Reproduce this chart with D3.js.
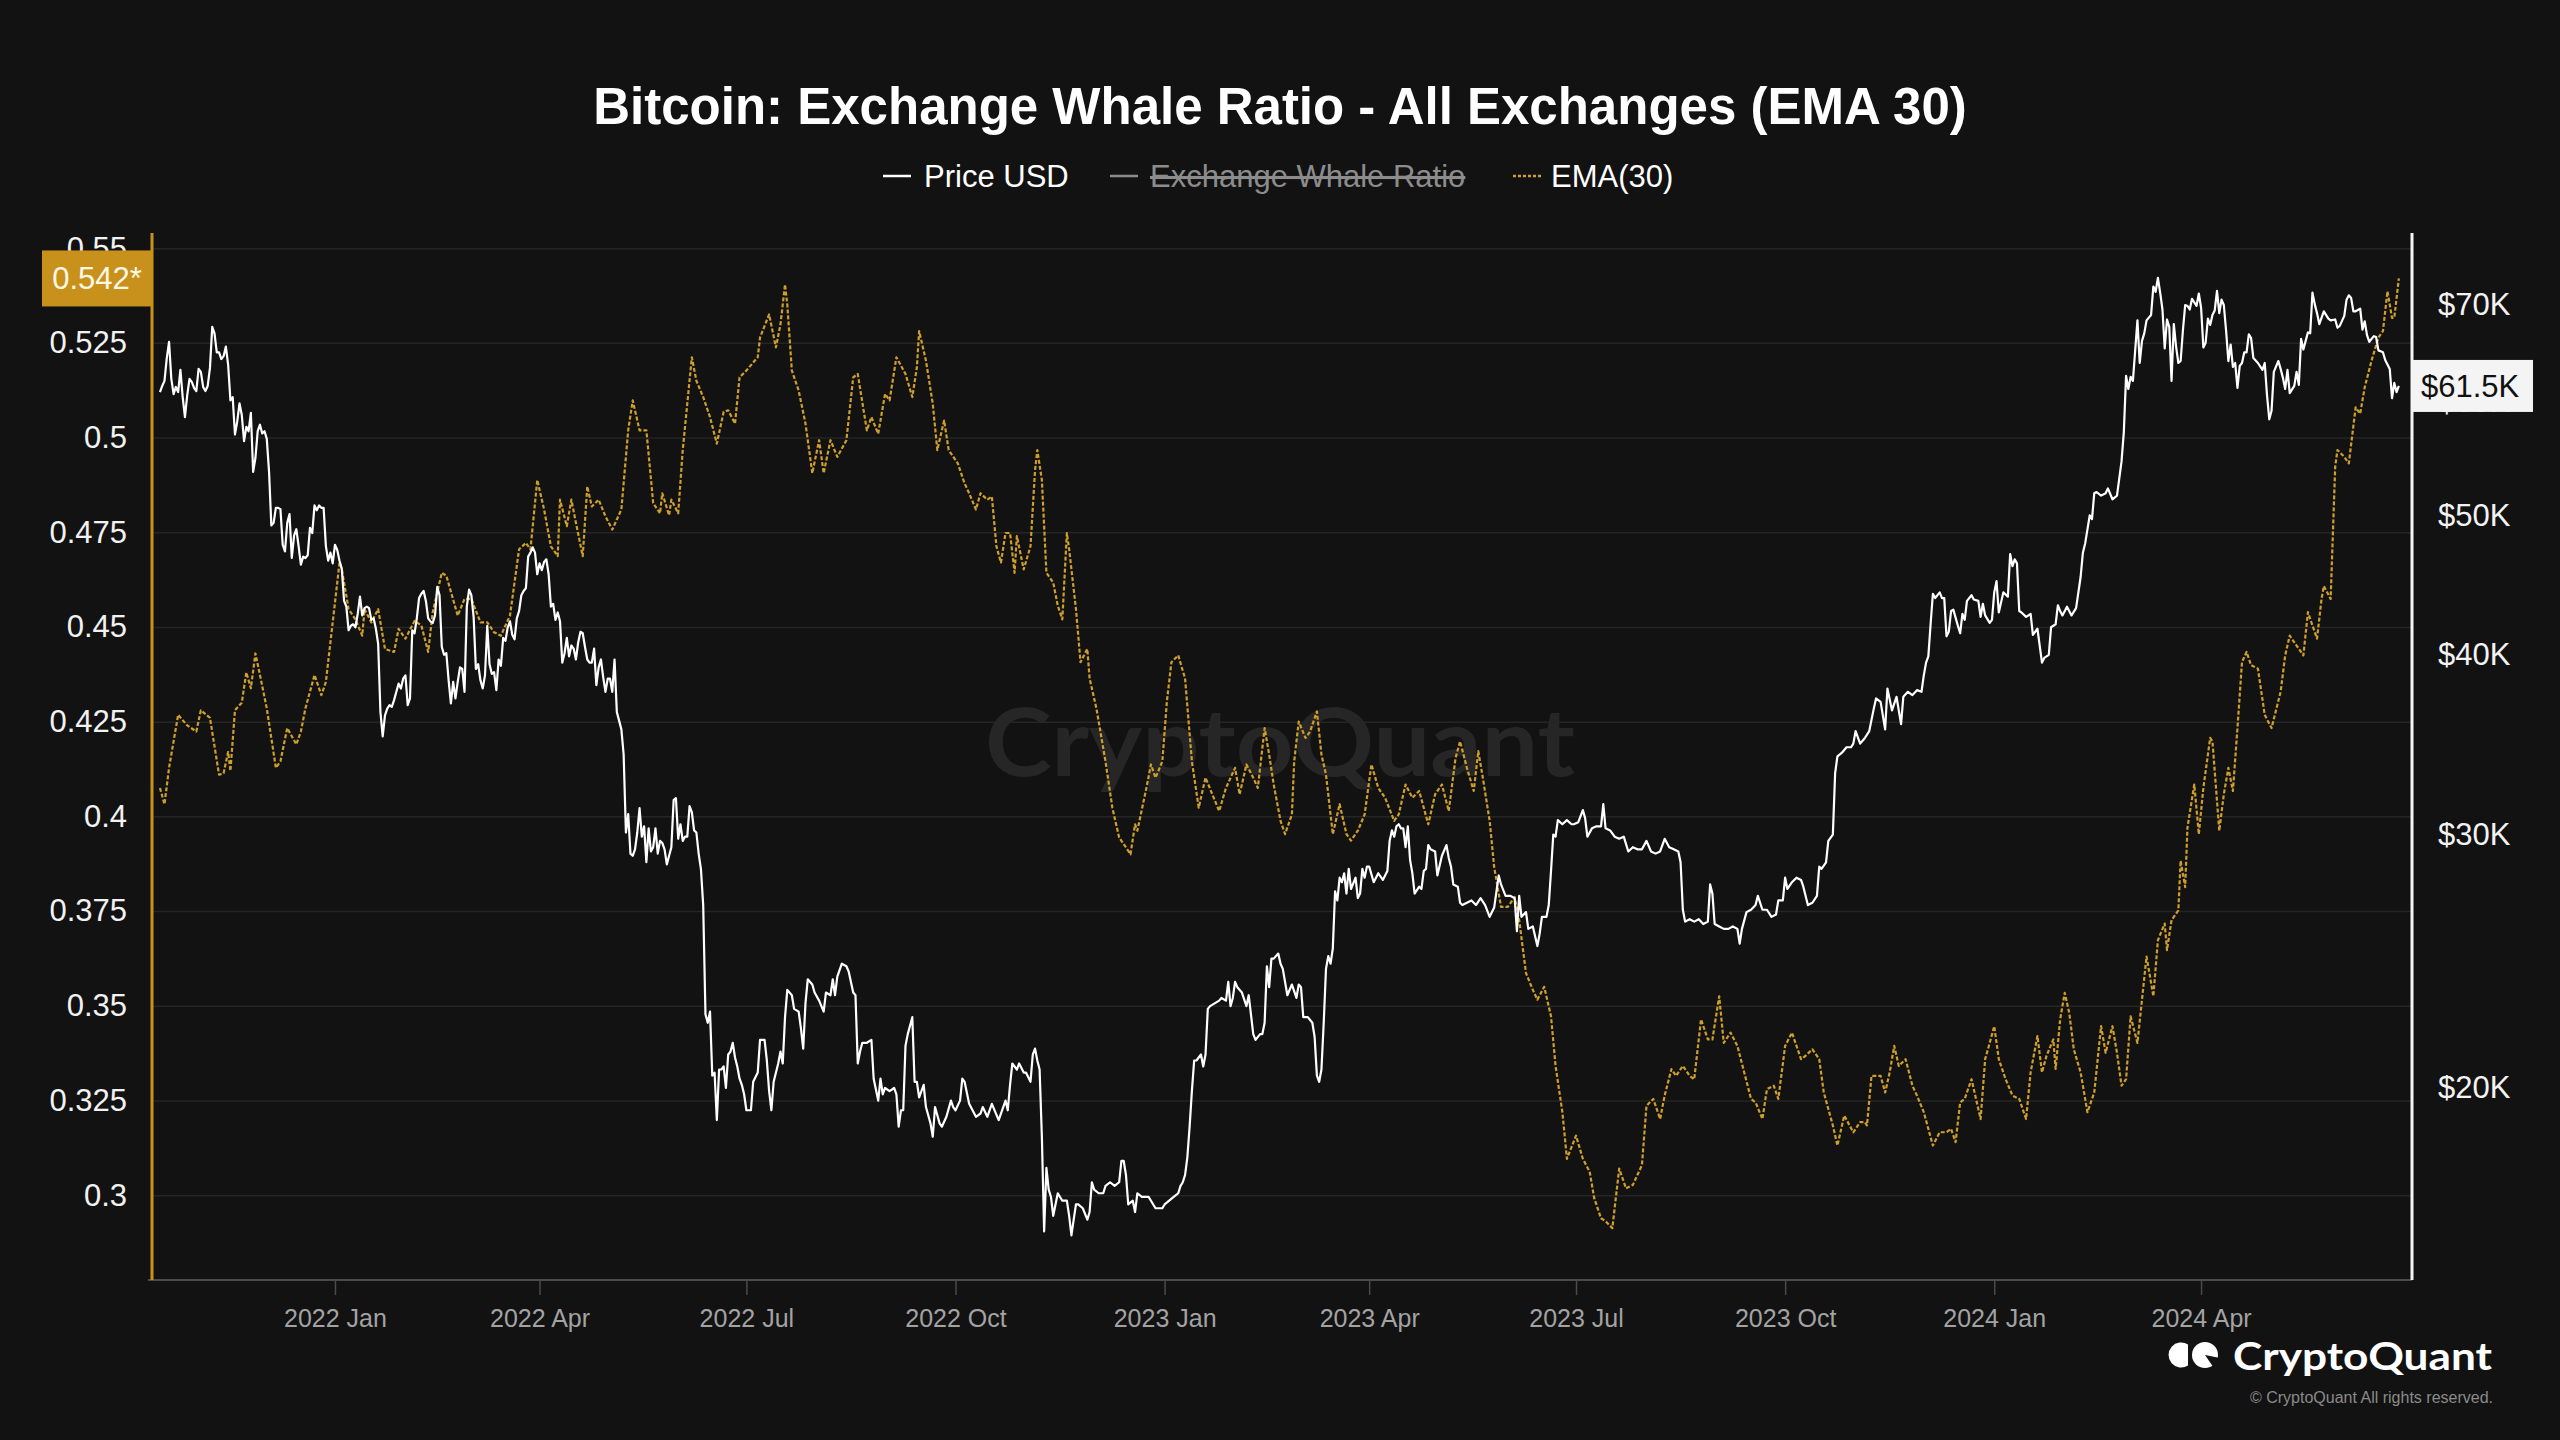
<!DOCTYPE html>
<html><head><meta charset="utf-8">
<script src="https://cdn.jsdelivr.net/npm/d3@7"></script>
<style>html,body{margin:0;padding:0;background:#121212;}svg{display:block;}</style>
</head><body>
<svg id="chart" width="2560" height="1440"></svg>
<script>
// ---------------- DATA ----------------
const titleText = "Bitcoin: Exchange Whale Ratio - All Exchanges (EMA 30)";
const legendLabels = ["Price USD", "Exchange Whale Ratio", "EMA(30)"];
const leftTicks = [0.3, 0.325, 0.35, 0.375, 0.4, 0.425, 0.45, 0.475, 0.5, 0.525, 0.55];
const rightTicks = [20, 30, 40, 50, 60, 70];
const xTickDates = ["2022-01-01","2022-04-01","2022-07-01","2022-10-01","2023-01-01","2023-04-01","2023-07-01","2023-10-01","2024-01-01","2024-04-01"];
const xTickLabels = ["2022 Jan","2022 Apr","2022 Jul","2022 Oct","2023 Jan","2023 Apr","2023 Jul","2023 Oct","2024 Jan","2024 Apr"];
const lastRatioLabel = "0.542*";
const lastPriceLabel = "$61.5K";
const lastRatioValue = 0.542;
const lastPriceValue = 61.5;

// Price USD (thousands)
const price2021 = [["2021-10-16",60.9],["2021-10-17",61.5],["2021-10-18",62.0],["2021-10-19",64.3],["2021-10-20",66.0],["2021-10-21",62.2],["2021-10-22",60.7],["2021-10-23",61.4],["2021-10-24",60.9],["2021-10-25",63.1],["2021-10-26",60.4],["2021-10-27",58.5],["2021-10-28",60.6],["2021-10-29",62.2],["2021-10-30",61.9],["2021-10-31",61.3],
["2021-11-01",61.0],["2021-11-02",63.2],["2021-11-03",62.9],["2021-11-04",61.4],["2021-11-05",61.0],["2021-11-06",61.5],["2021-11-07",63.3],["2021-11-08",67.6],["2021-11-09",66.9],["2021-11-10",64.9],["2021-11-11",64.9],["2021-11-12",64.2],["2021-11-13",64.5],["2021-11-14",65.5],["2021-11-15",63.6],["2021-11-16",60.1],["2021-11-17",60.4],["2021-11-18",56.9],["2021-11-19",58.1],["2021-11-20",59.8],["2021-11-21",58.7],["2021-11-22",56.3],["2021-11-23",57.6],["2021-11-24",57.2],["2021-11-25",58.9],["2021-11-26",53.6],["2021-11-27",54.8],["2021-11-28",57.2],["2021-11-29",57.8],["2021-11-30",57.0],
["2021-12-01",57.2],["2021-12-02",56.5],["2021-12-03",53.6],["2021-12-04",49.2],["2021-12-05",49.4],["2021-12-06",50.6],["2021-12-07",50.6],["2021-12-08",50.5],["2021-12-09",47.7],["2021-12-10",47.2],["2021-12-11",49.4],["2021-12-12",50.1],["2021-12-13",46.7],["2021-12-14",48.4],["2021-12-15",48.9],["2021-12-16",47.6],["2021-12-17",46.2],["2021-12-18",46.8],["2021-12-19",46.7],["2021-12-20",46.9],["2021-12-21",49.0],["2021-12-22",48.6],["2021-12-23",50.8],["2021-12-24",50.4],["2021-12-25",50.8],["2021-12-26",50.6],["2021-12-27",50.6],["2021-12-28",47.6],["2021-12-29",46.5],["2021-12-30",47.1],["2021-12-31",46.3]];

const price2022 = [["2022-01-01",47.7],["2022-01-02",47.3],["2022-01-03",46.5],["2022-01-04",45.9],["2022-01-05",43.6],["2022-01-06",43.2],["2022-01-07",41.6],["2022-01-08",41.9],["2022-01-09",42.0],["2022-01-10",41.8],["2022-01-11",42.7],["2022-01-12",43.9],["2022-01-13",42.6],["2022-01-14",43.1],["2022-01-15",43.2],["2022-01-16",43.1],["2022-01-17",42.3],["2022-01-18",42.4],["2022-01-19",41.7],["2022-01-20",40.7],["2022-01-21",36.5],["2022-01-22",35.1],["2022-01-23",36.3],["2022-01-24",36.7],["2022-01-25",36.9],["2022-01-26",36.8],["2022-01-27",37.2],["2022-01-28",37.7],["2022-01-29",38.2],["2022-01-30",37.9],["2022-01-31",38.5],
["2022-02-01",38.7],["2022-02-02",36.9],["2022-02-03",37.3],["2022-02-04",41.6],["2022-02-05",41.4],["2022-02-06",42.4],["2022-02-07",43.8],["2022-02-08",44.1],["2022-02-09",44.3],["2022-02-10",43.6],["2022-02-11",42.4],["2022-02-12",42.2],["2022-02-13",42.1],["2022-02-14",42.6],["2022-02-15",44.6],["2022-02-16",44.0],["2022-02-17",40.5],["2022-02-18",40.0],["2022-02-19",40.1],["2022-02-20",38.4],["2022-02-21",37.0],["2022-02-22",38.3],["2022-02-23",37.3],["2022-02-24",38.3],["2022-02-25",39.2],["2022-02-26",39.1],["2022-02-27",37.7],["2022-02-28",43.2],
["2022-03-01",44.4],["2022-03-02",44.0],["2022-03-03",42.5],["2022-03-04",39.1],["2022-03-05",39.4],["2022-03-06",38.4],["2022-03-07",37.9],["2022-03-08",38.7],["2022-03-09",41.9],["2022-03-10",39.4],["2022-03-11",38.8],["2022-03-12",38.9],["2022-03-13",37.8],["2022-03-14",39.7],["2022-03-15",39.3],["2022-03-16",41.1],["2022-03-17",40.9],["2022-03-18",41.8],["2022-03-19",42.2],["2022-03-20",41.3],["2022-03-21",41.0],["2022-03-22",42.4],["2022-03-23",42.9],["2022-03-24",44.0],["2022-03-25",44.3],["2022-03-26",44.5],["2022-03-27",46.8],["2022-03-28",47.1],["2022-03-29",47.5],["2022-03-30",47.1],["2022-03-31",45.5],
["2022-04-01",46.3],["2022-04-02",45.8],["2022-04-03",46.4],["2022-04-04",46.6],["2022-04-05",45.5],["2022-04-06",43.2],["2022-04-07",43.4],["2022-04-08",42.3],["2022-04-09",42.8],["2022-04-10",42.2],["2022-04-11",39.5],["2022-04-12",40.1],["2022-04-13",41.1],["2022-04-14",39.9],["2022-04-15",40.6],["2022-04-16",40.4],["2022-04-17",39.7],["2022-04-18",40.8],["2022-04-19",41.5],["2022-04-20",41.4],["2022-04-21",40.5],["2022-04-22",39.7],["2022-04-23",39.5],["2022-04-24",39.5],["2022-04-25",40.4],["2022-04-26",38.1],["2022-04-27",39.2],["2022-04-28",39.7],["2022-04-29",38.6],["2022-04-30",37.7],
["2022-05-01",38.5],["2022-05-02",38.5],["2022-05-03",37.7],["2022-05-04",39.7],["2022-05-05",36.5],["2022-05-06",36.0],["2022-05-07",35.5],["2022-05-08",34.1],["2022-05-09",30.1],["2022-05-10",31.0],["2022-05-11",29.1],["2022-05-12",29.0],["2022-05-13",29.3],["2022-05-14",30.1],["2022-05-15",31.3],["2022-05-16",29.9],["2022-05-17",30.4],["2022-05-18",28.7],["2022-05-19",30.3],["2022-05-20",29.2],["2022-05-21",29.4],["2022-05-22",30.3],["2022-05-23",29.1],["2022-05-24",29.7],["2022-05-25",29.6],["2022-05-26",29.3],["2022-05-27",28.6],["2022-05-28",29.0],["2022-05-29",29.4],["2022-05-30",31.7],["2022-05-31",31.8],
["2022-06-01",29.8],["2022-06-02",30.5],["2022-06-03",29.7],["2022-06-04",29.9],["2022-06-05",29.9],["2022-06-06",31.4],["2022-06-07",31.1],["2022-06-08",30.2],["2022-06-09",30.1],["2022-06-10",29.1],["2022-06-11",28.4],["2022-06-12",26.8],["2022-06-13",22.5],["2022-06-14",22.2],["2022-06-15",22.6],["2022-06-16",20.4],["2022-06-17",20.5],["2022-06-18",19.0],["2022-06-19",20.6],["2022-06-20",20.6],["2022-06-21",20.7],["2022-06-22",20.0],["2022-06-23",21.1],["2022-06-24",21.2],["2022-06-25",21.5],["2022-06-26",21.0],["2022-06-27",20.7],["2022-06-28",20.3],["2022-06-29",20.1],["2022-06-30",19.8],
["2022-07-01",19.3],["2022-07-03",19.3],["2022-07-04",20.2],["2022-07-06",20.5],["2022-07-07",21.6],["2022-07-09",21.6],["2022-07-10",20.9],["2022-07-11",19.9],["2022-07-12",19.3],["2022-07-13",20.2],["2022-07-15",20.8],["2022-07-16",21.2],["2022-07-17",20.8],["2022-07-18",22.4],["2022-07-19",23.4],["2022-07-21",23.2],["2022-07-22",22.7],["2022-07-24",22.6],["2022-07-25",22.0],["2022-07-26",21.3],["2022-07-27",22.9],["2022-07-28",23.8],["2022-07-30",23.6],["2022-07-31",23.3],
["2022-08-02",23.0],["2022-08-04",22.6],["2022-08-05",23.3],["2022-08-07",23.2],["2022-08-08",23.8],["2022-08-09",23.2],["2022-08-10",23.9],["2022-08-12",24.4],["2022-08-14",24.3],["2022-08-15",24.1],["2022-08-17",23.3],["2022-08-18",23.2],["2022-08-19",20.8],["2022-08-20",21.2],["2022-08-21",21.5],["2022-08-23",21.5],["2022-08-25",21.6],["2022-08-26",20.3],["2022-08-28",19.6],["2022-08-29",20.3],["2022-08-30",19.8],["2022-08-31",20.0],
["2022-09-02",19.9],["2022-09-04",20.0],["2022-09-05",19.8],["2022-09-06",18.8],["2022-09-07",19.3],["2022-09-08",19.3],["2022-09-09",21.4],["2022-09-10",21.8],["2022-09-12",22.4],["2022-09-13",20.2],["2022-09-14",20.2],["2022-09-15",19.7],["2022-09-17",20.1],["2022-09-18",19.4],["2022-09-20",18.9],["2022-09-21",18.5],["2022-09-22",19.4],["2022-09-24",18.9],["2022-09-25",18.8],["2022-09-27",19.1],["2022-09-29",19.6],["2022-09-30",19.4],
["2022-10-01",19.3],["2022-10-03",19.6],["2022-10-04",20.3],["2022-10-05",20.2],["2022-10-07",19.5],["2022-10-10",19.1],["2022-10-12",19.2],["2022-10-13",19.4],["2022-10-15",19.1],["2022-10-17",19.5],["2022-10-20",19.0],["2022-10-23",19.6],["2022-10-24",19.3],["2022-10-25",20.1],["2022-10-26",20.8],["2022-10-28",20.6],["2022-10-29",20.8],["2022-10-31",20.5],
["2022-11-01",20.5],["2022-11-03",20.2],["2022-11-04",21.1],["2022-11-05",21.3],["2022-11-06",20.9],["2022-11-07",20.6],["2022-11-08",18.5],["2022-11-09",15.9],["2022-11-10",17.6],["2022-11-11",17.0],["2022-11-12",16.8],["2022-11-13",16.3],["2022-11-14",16.6],["2022-11-15",16.9],["2022-11-17",16.7],["2022-11-19",16.7],["2022-11-20",16.3],["2022-11-21",15.8],["2022-11-22",16.2],["2022-11-23",16.6],["2022-11-24",16.6],["2022-11-26",16.5],["2022-11-28",16.2],["2022-11-29",16.4],["2022-11-30",17.2],
["2022-12-01",17.0],["2022-12-03",16.9],["2022-12-05",16.9],["2022-12-06",17.1],["2022-12-08",17.2],["2022-12-10",17.1],["2022-12-12",17.2],["2022-12-13",17.8],["2022-12-14",17.8],["2022-12-15",17.4],["2022-12-16",16.6],["2022-12-18",16.7],["2022-12-19",16.4],["2022-12-20",16.9],["2022-12-22",16.8],["2022-12-25",16.8],["2022-12-28",16.5],["2022-12-31",16.5]];

const price2023 = [["2023-01-01",16.6],["2023-01-03",16.7],["2023-01-05",16.8],["2023-01-07",16.9],["2023-01-08",17.1],["2023-01-09",17.2],["2023-01-10",17.4],["2023-01-11",17.9],["2023-01-12",18.8],["2023-01-13",19.9],["2023-01-14",20.9],["2023-01-15",20.9],["2023-01-17",21.1],["2023-01-18",20.7],["2023-01-19",21.1],["2023-01-20",22.7],["2023-01-21",22.8],["2023-01-23",22.9],["2023-01-25",23.0],["2023-01-26",23.1],["2023-01-28",23.0],["2023-01-29",23.7],["2023-01-30",22.8],["2023-01-31",23.1],
["2023-02-01",23.7],["2023-02-02",23.5],["2023-02-04",23.3],["2023-02-06",22.8],["2023-02-07",23.2],["2023-02-09",21.8],["2023-02-10",21.6],["2023-02-12",21.8],["2023-02-13",21.8],["2023-02-14",22.2],["2023-02-15",24.3],["2023-02-16",23.5],["2023-02-17",24.6],["2023-02-18",24.6],["2023-02-20",24.8],["2023-02-21",24.4],["2023-02-22",24.2],["2023-02-24",23.2],["2023-02-26",23.6],["2023-02-28",23.1],
["2023-03-01",23.6],["2023-03-02",23.5],["2023-03-03",22.4],["2023-03-05",22.4],["2023-03-07",22.2],["2023-03-08",21.7],["2023-03-09",20.4],["2023-03-10",20.2],["2023-03-11",20.6],["2023-03-12",22.2],["2023-03-13",24.2],["2023-03-14",24.7],["2023-03-15",24.4],["2023-03-16",25.0],["2023-03-17",27.4],["2023-03-18",27.0],["2023-03-19",28.0],["2023-03-20",27.8],["2023-03-21",28.2],["2023-03-22",27.3],["2023-03-23",28.4],["2023-03-24",27.5],["2023-03-26",28.0],["2023-03-27",27.1],["2023-03-28",27.3],["2023-03-29",28.4],["2023-03-30",28.0],["2023-03-31",28.5],
["2023-04-01",28.5],["2023-04-03",27.8],["2023-04-05",28.2],["2023-04-07",27.9],["2023-04-09",28.3],["2023-04-10",29.7],["2023-04-11",30.2],["2023-04-12",29.9],["2023-04-13",30.4],["2023-04-14",30.5],["2023-04-15",30.3],["2023-04-16",30.3],["2023-04-17",29.4],["2023-04-18",30.4],["2023-04-19",28.8],["2023-04-20",28.2],["2023-04-21",27.3],["2023-04-23",27.6],["2023-04-24",27.5],["2023-04-25",28.3],["2023-04-26",28.4],["2023-04-27",29.5],["2023-04-28",29.3],["2023-04-30",29.2],
["2023-05-01",28.1],["2023-05-03",29.0],["2023-05-05",29.5],["2023-05-06",28.9],["2023-05-07",28.5],["2023-05-08",27.7],["2023-05-10",27.6],["2023-05-11",26.9],["2023-05-12",26.8],["2023-05-14",26.9],["2023-05-16",27.0],["2023-05-18",26.8],["2023-05-20",27.1],["2023-05-22",26.8],["2023-05-24",26.3],["2023-05-26",26.7],["2023-05-28",28.1],["2023-05-29",27.7],["2023-05-31",27.2],
["2023-06-02",27.2],["2023-06-04",27.1],["2023-06-05",25.7],["2023-06-06",27.2],["2023-06-07",26.3],["2023-06-09",26.5],["2023-06-10",25.8],["2023-06-12",25.9],["2023-06-14",25.1],["2023-06-15",25.6],["2023-06-16",26.3],["2023-06-18",26.3],["2023-06-19",26.8],["2023-06-20",28.3],["2023-06-21",30.0],["2023-06-22",29.9],["2023-06-23",30.7],["2023-06-25",30.5],["2023-06-27",30.7],["2023-06-29",30.5],["2023-06-30",30.5],
["2023-07-02",30.6],["2023-07-04",31.2],["2023-07-05",30.8],["2023-07-06",29.9],["2023-07-08",30.3],["2023-07-10",30.4],["2023-07-12",30.4],["2023-07-13",31.5],["2023-07-14",30.3],["2023-07-16",30.2],["2023-07-18",29.9],["2023-07-20",29.8],["2023-07-22",29.9],["2023-07-24",29.2],["2023-07-26",29.4],["2023-07-28",29.3],["2023-07-30",29.3],
["2023-08-01",29.7],["2023-08-03",29.2],["2023-08-05",29.1],["2023-08-07",29.2],["2023-08-09",29.8],["2023-08-11",29.4],["2023-08-13",29.3],["2023-08-15",29.2],["2023-08-16",28.7],["2023-08-17",26.6],["2023-08-18",26.1],["2023-08-20",26.2],["2023-08-22",26.1],["2023-08-24",26.2],["2023-08-26",26.0],["2023-08-28",26.1],["2023-08-29",27.7],["2023-08-30",27.3],["2023-08-31",26.0],
["2023-09-02",25.9],["2023-09-04",25.8],["2023-09-06",25.8],["2023-09-08",25.9],["2023-09-10",25.8],["2023-09-11",25.2],["2023-09-12",25.8],["2023-09-14",26.5],["2023-09-16",26.6],["2023-09-18",26.8],["2023-09-19",27.2],["2023-09-21",26.6],["2023-09-23",26.6],["2023-09-25",26.3],["2023-09-27",26.4],["2023-09-28",27.0],["2023-09-30",27.0],
["2023-10-01",28.0],["2023-10-02",27.5],["2023-10-04",27.8],["2023-10-06",28.0],["2023-10-08",27.9],["2023-10-09",27.6],["2023-10-11",26.8],["2023-10-13",26.9],["2023-10-15",27.2],["2023-10-16",28.5],["2023-10-17",28.4],["2023-10-19",28.7],["2023-10-20",29.7],["2023-10-22",30.0],["2023-10-23",33.1],["2023-10-24",34.0],["2023-10-26",34.2],["2023-10-28",34.5],["2023-10-30",34.5],["2023-10-31",34.7],
["2023-11-01",35.4],["2023-11-03",34.7],["2023-11-05",35.0],["2023-11-07",35.4],["2023-11-09",36.7],["2023-11-10",37.3],["2023-11-12",37.1],["2023-11-14",35.5],["2023-11-15",37.9],["2023-11-17",36.6],["2023-11-19",37.4],["2023-11-21",35.8],["2023-11-22",37.4],["2023-11-24",37.7],["2023-11-26",37.5],["2023-11-28",37.8],["2023-11-30",37.7],
["2023-12-01",38.7],["2023-12-02",39.5],["2023-12-03",39.9],["2023-12-04",42.0],["2023-12-05",44.1],["2023-12-06",43.8],["2023-12-08",44.2],["2023-12-09",43.8],["2023-12-10",43.8],["2023-12-11",41.2],["2023-12-12",41.5],["2023-12-13",42.9],["2023-12-14",43.0],["2023-12-16",41.9],["2023-12-17",41.4],["2023-12-18",42.7],["2023-12-19",42.3],["2023-12-20",43.6],["2023-12-22",44.0],["2023-12-23",43.7],["2023-12-25",43.6],["2023-12-26",42.5],["2023-12-27",43.4],["2023-12-28",42.6],["2023-12-30",42.1],["2023-12-31",42.3]];

const price2024 = [["2024-01-01",44.2],["2024-01-02",45.0],["2024-01-03",42.8],["2024-01-05",44.2],["2024-01-07",43.9],["2024-01-08",47.0],["2024-01-09",46.1],["2024-01-10",46.6],["2024-01-11",46.3],["2024-01-12",42.9],["2024-01-13",42.8],["2024-01-15",42.5],["2024-01-17",42.7],["2024-01-18",41.3],["2024-01-20",41.7],["2024-01-22",39.5],["2024-01-23",39.8],["2024-01-25",40.0],["2024-01-26",41.8],["2024-01-28",42.0],["2024-01-29",43.3],["2024-01-30",42.9],["2024-01-31",42.6],
["2024-02-02",43.2],["2024-02-04",42.6],["2024-02-06",43.1],["2024-02-08",45.3],["2024-02-09",47.1],["2024-02-10",47.8],["2024-02-12",50.0],["2024-02-13",49.7],["2024-02-14",51.8],["2024-02-15",51.9],["2024-02-17",51.6],["2024-02-19",51.8],["2024-02-20",52.2],["2024-02-22",51.3],["2024-02-24",51.6],["2024-02-26",54.5],["2024-02-27",57.1],["2024-02-28",62.5],["2024-02-29",61.2],
["2024-03-01",62.4],["2024-03-02",62.0],["2024-03-04",68.3],["2024-03-05",63.8],["2024-03-06",66.1],["2024-03-07",66.9],["2024-03-08",68.3],["2024-03-10",68.9],["2024-03-11",72.1],["2024-03-12",71.5],["2024-03-13",73.1],["2024-03-14",71.4],["2024-03-15",69.5],["2024-03-16",65.3],["2024-03-17",68.4],["2024-03-18",67.6],["2024-03-19",62.0],["2024-03-20",67.9],["2024-03-21",65.5],["2024-03-22",63.8],["2024-03-23",64.0],["2024-03-24",67.2],["2024-03-25",70.0],["2024-03-26",69.9],["2024-03-27",69.5],["2024-03-28",70.7],["2024-03-30",69.9],["2024-03-31",71.3],
["2024-04-01",69.7],["2024-04-02",65.4],["2024-04-03",65.9],["2024-04-04",68.5],["2024-04-05",67.8],["2024-04-06",68.9],["2024-04-07",69.4],["2024-04-08",71.6],["2024-04-09",69.1],["2024-04-10",70.6],["2024-04-11",70.0],["2024-04-12",67.2],["2024-04-13",64.0],["2024-04-14",65.7],["2024-04-15",63.4],["2024-04-16",63.8],["2024-04-17",61.3],["2024-04-18",63.5],["2024-04-19",63.8],["2024-04-20",64.9],["2024-04-21",64.9],["2024-04-22",66.8],["2024-04-23",66.4],["2024-04-24",64.3],["2024-04-26",63.8],["2024-04-28",63.1],["2024-04-29",63.8],["2024-04-30",60.6],
["2024-05-01",58.3],["2024-05-02",59.1],["2024-05-03",62.9],["2024-05-05",64.0],["2024-05-06",63.2],["2024-05-07",62.3],["2024-05-08",61.2],["2024-05-09",63.1],["2024-05-10",60.8],["2024-05-12",61.5],["2024-05-13",62.9],["2024-05-14",61.6],["2024-05-15",66.3],["2024-05-16",65.2],["2024-05-18",67.0],["2024-05-19",66.9],["2024-05-20",71.4],["2024-05-21",70.1],["2024-05-22",69.1],["2024-05-23",67.9],["2024-05-25",69.3],["2024-05-27",68.5],["2024-05-28",68.3],["2024-05-30",68.4],["2024-05-31",67.5],
["2024-06-01",67.7],["2024-06-03",68.8],["2024-06-04",70.6],["2024-06-05",71.1],["2024-06-06",70.8],["2024-06-07",69.3],["2024-06-08",69.3],["2024-06-10",69.6],["2024-06-11",67.3],["2024-06-12",68.2],["2024-06-13",66.7],["2024-06-14",66.0],["2024-06-16",66.6],["2024-06-17",66.5],["2024-06-18",65.1],["2024-06-19",65.0],["2024-06-20",64.9],["2024-06-21",64.1],["2024-06-23",63.2],["2024-06-24",60.3],["2024-06-25",61.8],["2024-06-26",60.9],["2024-06-27",61.5]];

// Exchange Whale Ratio EMA(30)
const ema2021 = [["2021-10-16",0.4075],["2021-10-18",0.4032],["2021-10-20",0.4128],["2021-10-24",0.4268],["2021-10-28",0.424],["2021-11-01",0.4224],["2021-11-03",0.428],["2021-11-07",0.426],["2021-11-11",0.411],["2021-11-13",0.4114],["2021-11-15",0.417],["2021-11-16",0.412],["2021-11-18",0.428],["2021-11-21",0.430],["2021-11-23",0.438],["2021-11-25",0.4338],["2021-11-27",0.443],["2021-11-29",0.4373],["2021-12-02",0.4285],["2021-12-06",0.4128],["2021-12-08",0.4145],["2021-12-11",0.4233],["2021-12-15",0.419],["2021-12-17",0.4224],["2021-12-19",0.4285],["2021-12-23",0.4373],["2021-12-26",0.432],["2021-12-28",0.4355],["2021-12-31",0.4512]];

const ema2022 = [["2022-01-03",0.467],["2022-01-04",0.4652],["2022-01-07",0.4547],["2022-01-10",0.452],["2022-01-13",0.4477],["2022-01-14",0.4547],["2022-01-17",0.4512],["2022-01-20",0.4547],["2022-01-23",0.4442],["2022-01-27",0.4434],["2022-01-29",0.4495],["2022-02-01",0.4469],["2022-02-05",0.4516],["2022-02-08",0.4504],["2022-02-11",0.4434],["2022-02-13",0.4539],["2022-02-17",0.4643],["2022-02-19",0.4635],["2022-02-24",0.453],["2022-02-27",0.4574],["2022-03-02",0.4574],["2022-03-06",0.4512],["2022-03-09",0.4512],["2022-03-12",0.4486],["2022-03-15",0.4477],["2022-03-19",0.453],["2022-03-23",0.4705],["2022-03-26",0.4722],["2022-03-28",0.4705],["2022-03-31",0.4888],["2022-04-03",0.481],["2022-04-06",0.4713],["2022-04-09",0.4687],["2022-04-10",0.4836],["2022-04-13",0.4766],["2022-04-15",0.4836],["2022-04-17",0.4775],["2022-04-20",0.4687],["2022-04-22",0.4871],["2022-04-24",0.4818],["2022-04-27",0.4836],["2022-04-30",0.4792],["2022-05-03",0.4757],["2022-05-07",0.481],["2022-05-10",0.5019],["2022-05-12",0.5098],["2022-05-15",0.5019],["2022-05-18",0.5019],["2022-05-21",0.4827],["2022-05-24",0.48],["2022-05-25",0.4853],["2022-05-28",0.4795],["2022-05-29",0.4836],["2022-06-01",0.48],["2022-06-03",0.4967],["2022-06-07",0.5212],["2022-06-09",0.515],["2022-06-12",0.5107],["2022-06-15",0.5054],["2022-06-18",0.4984],["2022-06-21",0.5068],["2022-06-23",0.5072],["2022-06-26",0.5037],["2022-06-28",0.5159],["2022-07-01",0.5177],["2022-07-06",0.5212],["2022-07-07",0.5264],["2022-07-11",0.5325],["2022-07-14",0.5238],["2022-07-16",0.5299],["2022-07-18",0.5404],["2022-07-19",0.5351],["2022-07-21",0.5177],["2022-07-24",0.5124],["2022-07-27",0.5037],["2022-07-30",0.4906],["2022-08-02",0.4993],["2022-08-04",0.4906],["2022-08-07",0.4993],["2022-08-10",0.4949],["2022-08-14",0.4993],["2022-08-17",0.5159],["2022-08-19",0.5168],["2022-08-23",0.5019],["2022-08-25",0.5054],["2022-08-28",0.501],["2022-08-31",0.5115],["2022-09-02",0.5098],["2022-09-05",0.5212],["2022-09-09",0.5168],["2022-09-12",0.5107],["2022-09-14",0.5185],["2022-09-15",0.5281],["2022-09-18",0.5203],["2022-09-21",0.5089],["2022-09-23",0.4967],["2022-09-26",0.5045],["2022-09-28",0.4967],["2022-10-02",0.4932],["2022-10-05",0.4879],["2022-10-07",0.4853],["2022-10-10",0.481],["2022-10-12",0.4853],["2022-10-15",0.4836],["2022-10-17",0.4844],["2022-10-19",0.4713],["2022-10-21",0.467],["2022-10-23",0.4748],["2022-10-25",0.4748],["2022-10-27",0.4643],["2022-10-28",0.474],["2022-10-31",0.4652],["2022-11-03",0.4713],["2022-11-05",0.4914],["2022-11-06",0.4967],["2022-11-08",0.4888],["2022-11-10",0.4643],["2022-11-13",0.4617],["2022-11-15",0.4556],["2022-11-17",0.452],["2022-11-19",0.4748],["2022-11-20",0.4705],["2022-11-23",0.4547],["2022-11-25",0.4407],["2022-11-28",0.4442],["2022-11-29",0.4364],["2022-12-02",0.4285],["2022-12-06",0.4145],["2022-12-09",0.4023],["2022-12-12",0.3944],["2022-12-15",0.3918],["2022-12-17",0.39],["2022-12-19",0.3979],["2022-12-20",0.3962],["2022-12-24",0.4075],["2022-12-26",0.4137],["2022-12-28",0.4102],["2022-12-31",0.4145]];

const ema2023 = [["2023-01-02",0.4303],["2023-01-04",0.4407],["2023-01-07",0.4425],["2023-01-10",0.4364],["2023-01-13",0.4145],["2023-01-16",0.4023],["2023-01-19",0.4102],["2023-01-22",0.4058],["2023-01-25",0.4014],["2023-01-28",0.4075],["2023-02-01",0.4128],["2023-02-03",0.4058],["2023-02-06",0.4137],["2023-02-09",0.4102],["2023-02-11",0.4075],["2023-02-14",0.4233],["2023-02-16",0.4163],["2023-02-18",0.4084],["2023-02-21",0.3988],["2023-02-23",0.3953],["2023-02-26",0.4005],["2023-02-27",0.4145],["2023-03-01",0.425],["2023-03-04",0.4207],["2023-03-06",0.4224],["2023-03-09",0.4277],["2023-03-11",0.4163],["2023-03-13",0.411],["2023-03-16",0.3953],["2023-03-19",0.4032],["2023-03-22",0.3953],["2023-03-24",0.3936],["2023-03-27",0.3962],["2023-03-30",0.4005],["2023-04-02",0.4137],["2023-04-05",0.4075],["2023-04-08",0.4049],["2023-04-12",0.3988],["2023-04-14",0.4005],["2023-04-17",0.4084],["2023-04-20",0.4049],["2023-04-23",0.4067],["2023-04-27",0.3979],["2023-04-30",0.4058],["2023-05-03",0.4084],["2023-05-06",0.4014],["2023-05-09",0.4154],["2023-05-11",0.4198],["2023-05-14",0.4128],["2023-05-17",0.4067],["2023-05-19",0.4172],["2023-05-21",0.4102],["2023-05-24",0.3988],["2023-05-26",0.3866],["2023-05-29",0.3761],["2023-06-01",0.3761],["2023-06-04",0.3787],["2023-06-06",0.3726],["2023-06-09",0.3586],["2023-06-12",0.3542],["2023-06-14",0.3516],["2023-06-17",0.355],["2023-06-20",0.3472],["2023-06-22",0.3341],["2023-06-25",0.3219],["2023-06-27",0.3096],["2023-07-01",0.3157],["2023-07-04",0.3096],["2023-07-07",0.3062],["2023-07-09",0.2992],["2023-07-12",0.2939],["2023-07-14",0.2931],["2023-07-17",0.2913],["2023-07-18",0.2966],["2023-07-20",0.307],["2023-07-23",0.3018],["2023-07-26",0.3027],["2023-07-30",0.3079],["2023-08-01",0.3236],["2023-08-04",0.3254],["2023-08-07",0.3201],["2023-08-09",0.3263],["2023-08-12",0.3333],["2023-08-14",0.3315],["2023-08-17",0.3341],["2023-08-20",0.3315],["2023-08-22",0.3306],["2023-08-25",0.3464],["2023-08-28",0.3411],["2023-08-30",0.3411],["2023-09-02",0.3525],["2023-09-04",0.3402],["2023-09-07",0.3429],["2023-09-10",0.3394],["2023-09-13",0.3324],["2023-09-16",0.3254],["2023-09-18",0.3245],["2023-09-21",0.3201],["2023-09-23",0.328],["2023-09-26",0.3289],["2023-09-28",0.3254],["2023-10-01",0.3394],["2023-10-04",0.3429],["2023-10-08",0.3359],["2023-10-10",0.3368],["2023-10-13",0.3385],["2023-10-16",0.3359],["2023-10-18",0.3271],["2023-10-22",0.3184],["2023-10-24",0.3131],["2023-10-27",0.321],["2023-10-31",0.3166],["2023-11-03",0.3193],["2023-11-05",0.3193],["2023-11-06",0.3184],["2023-11-08",0.3315],["2023-11-12",0.3315],["2023-11-14",0.3271],["2023-11-16",0.3324],["2023-11-18",0.3394],["2023-11-20",0.3341],["2023-11-23",0.3359],["2023-11-26",0.3289],["2023-11-28",0.3263],["2023-12-01",0.3219],["2023-12-03",0.3175],["2023-12-05",0.3131],["2023-12-08",0.3166],["2023-12-11",0.3166],["2023-12-13",0.3175],["2023-12-15",0.314],["2023-12-17",0.3245],["2023-12-19",0.3254],["2023-12-22",0.3306],["2023-12-26",0.3201],["2023-12-28",0.3359],["2023-12-30",0.3402]];

const ema2024 = [["2024-01-01",0.3446],["2024-01-03",0.3359],["2024-01-06",0.3306],["2024-01-09",0.3263],["2024-01-12",0.3254],["2024-01-15",0.3201],["2024-01-17",0.3324],["2024-01-20",0.342],["2024-01-22",0.3324],["2024-01-24",0.3368],["2024-01-27",0.3411],["2024-01-28",0.3333],["2024-01-30",0.3464],["2024-02-01",0.3534],["2024-02-03",0.3481],["2024-02-05",0.3385],["2024-02-08",0.3324],["2024-02-11",0.3219],["2024-02-14",0.3271],["2024-02-17",0.3446],["2024-02-19",0.3376],["2024-02-22",0.3446],["2024-02-24",0.3376],["2024-02-26",0.3289],["2024-02-28",0.3306],["2024-03-01",0.3472],["2024-03-04",0.3402],["2024-03-06",0.3516],["2024-03-08",0.363],["2024-03-11",0.3525],["2024-03-13",0.3673],["2024-03-16",0.3717],["2024-03-17",0.3647],["2024-03-19",0.3726],["2024-03-22",0.3752],["2024-03-23",0.3883],["2024-03-25",0.3813],["2024-03-26",0.397],["2024-03-29",0.4084],["2024-03-31",0.3953],["2024-04-02",0.4075],["2024-04-05",0.4207],["2024-04-06",0.4198],["2024-04-09",0.3962],["2024-04-11",0.4058],["2024-04-13",0.4128],["2024-04-15",0.4067],["2024-04-17",0.4233],["2024-04-19",0.4407],["2024-04-21",0.4434],["2024-04-23",0.4399],["2024-04-26",0.439],["2024-04-29",0.4268],["2024-05-02",0.4233],["2024-05-06",0.4329],["2024-05-08",0.4425],["2024-05-10",0.4477],["2024-05-13",0.4451],["2024-05-16",0.4425],["2024-05-18",0.4539],["2024-05-20",0.4504],["2024-05-22",0.4469],["2024-05-24",0.4574],["2024-05-25",0.4608],["2024-05-28",0.4574],["2024-05-30",0.4923],["2024-05-31",0.4967],["2024-06-03",0.4949],["2024-06-05",0.4932],["2024-06-08",0.508],["2024-06-10",0.5063],["2024-06-12",0.5133],["2024-06-15",0.5203],["2024-06-18",0.5264],["2024-06-20",0.5281],["2024-06-22",0.5386],["2024-06-24",0.5316],["2024-06-25",0.5316],["2024-06-27",0.542]];

// ---------------- CHART ----------------
const parse = d3.utcParse("%Y-%m-%d");
const priceSeries = [...price2021, ...price2022, ...price2023, ...price2024];
const emaSeries = [...ema2021, ...ema2022, ...ema2023, ...ema2024];

const FONT = "'Liberation Sans', Arial, Helvetica, sans-serif";
const BG = "#121212";
const GOLD = "#c8911b";
const EMA_COLOR = "#cf9f2c";
const plot = {left: 152, right: 2412, top: 233, bottom: 1280};

const svg = d3.select("#chart");
svg.append("rect").attr("width", 2560).attr("height", 1440).attr("fill", BG);

const x = d3.scaleUtc()
  .domain([new Date(Date.UTC(2021, 9, 12, 12)), new Date(Date.UTC(2024, 6, 2, 19))])
  .range([plot.left, plot.right]);
const yL = d3.scaleLinear().domain([0.2776, 0.554]).range([plot.bottom, plot.top]);
const yR = d3.scaleLog().domain([14.71, 78.55]).range([plot.bottom, plot.top]);

// grid
const grid = svg.append("g").attr("transform", `translate(${plot.left},0)`)
  .call(d3.axisLeft(yL).tickValues(leftTicks).tickSize(-(plot.right - plot.left)).tickFormat(""));
grid.select(".domain").remove();
grid.selectAll("line").attr("stroke", "#252525").attr("stroke-width", 1.5);

// watermark
svg.append("text").attr("x", 1280).attr("y", 776).attr("text-anchor", "middle")
  .attr("font-family", "Lato, 'Noto Sans', sans-serif").attr("font-weight", 700)
  .attr("font-size", 94).attr("fill", "#262626")
  .attr("textLength", 590).attr("lengthAdjust", "spacingAndGlyphs")
  .text("CryptoQuant");

// clip
svg.append("clipPath").attr("id", "clip").append("rect")
  .attr("x", plot.left).attr("y", plot.top).attr("width", plot.right - plot.left).attr("height", plot.bottom - plot.top);

const gLines = svg.append("g").attr("clip-path", "url(#clip)");
const emaLine = d3.line().x(d => x(parse(d[0]))).y(d => yL(d[1]));
const priceLine = d3.line().x(d => x(parse(d[0]))).y(d => yR(d[1]));

gLines.append("path").datum(emaSeries).attr("d", emaLine)
  .attr("fill", "none").attr("stroke", EMA_COLOR).attr("stroke-width", 2.2)
  .attr("stroke-dasharray", "4,2").attr("stroke-linejoin", "round");
gLines.append("path").datum(priceSeries).attr("d", priceLine)
  .attr("fill", "none").attr("stroke", "#ffffff").attr("stroke-width", 2.2)
  .attr("stroke-linejoin", "round");

// x axis
const xAxis = svg.append("g").attr("transform", `translate(0,${plot.bottom})`)
  .call(d3.axisBottom(x).tickValues(xTickDates.map(parse)).tickSize(15)
    .tickFormat((d, i) => xTickLabels[i]));
xAxis.select(".domain").attr("d", `M${plot.left - 4},0H${plot.right}`).attr("stroke", "#4a4a4a").attr("stroke-width", 2);
xAxis.selectAll(".tick line").attr("stroke", "#4a4a4a").attr("stroke-width", 1.5);
xAxis.selectAll(".tick text").attr("y", 38).attr("dy", "0.35em")
  .attr("font-family", FONT).attr("font-size", 25).attr("fill", "#a3a3a3");

// left axis
const lAxis = svg.append("g").attr("transform", `translate(${plot.left},0)`)
  .call(d3.axisLeft(yL).tickValues(leftTicks).tickSize(0).tickPadding(25)
    .tickFormat(d => String(+d.toFixed(3))));
lAxis.select(".domain").attr("d", `M0,${plot.top}V${plot.bottom}`).attr("stroke", GOLD).attr("stroke-width", 3);
lAxis.selectAll(".tick text").attr("font-family", FONT).attr("font-size", 31).attr("fill", "#f2f2f2");

// right axis
const rAxis = svg.append("g").attr("transform", `translate(${plot.right},0)`)
  .call(d3.axisRight(yR).tickValues(rightTicks).tickSize(0).tickPadding(26)
    .tickFormat(d => "$" + d + "K"));
rAxis.select(".domain").attr("d", `M0,${plot.top}V${plot.bottom}`).attr("stroke", "#f5f5f5").attr("stroke-width", 3);
rAxis.selectAll(".tick text").attr("font-family", FONT).attr("font-size", 31).attr("fill", "#f2f2f2");

// last-value badges
const ly = yL(lastRatioValue);
svg.append("rect").attr("x", 42).attr("y", ly - 28).attr("width", plot.left - 42).attr("height", 56).attr("fill", GOLD);
svg.append("text").attr("x", 97).attr("y", ly).attr("dy", "0.35em").attr("text-anchor", "middle")
  .attr("font-family", FONT).attr("font-size", 31).attr("fill", "#fff8e6").text(lastRatioLabel);

const py = yR(lastPriceValue);
svg.append("rect").attr("x", plot.right + 1).attr("y", py - 26).attr("width", 120).attr("height", 52).attr("fill", "#f4f4f4");
svg.append("text").attr("x", plot.right + 9).attr("y", py).attr("dy", "0.35em")
  .attr("font-family", FONT).attr("font-size", 31).attr("fill", "#111").text(lastPriceLabel);

// title
svg.append("text").attr("x", 1280).attr("y", 106).attr("dy", "0.35em").attr("text-anchor", "middle")
  .attr("font-family", FONT).attr("font-weight", 700).attr("font-size", 51).attr("fill", "#ffffff")
  .text(titleText);

// legend
const legendY = 176;
const lg = svg.append("g");
const legendDefs = [
  {x: 883, tx: 924, color: "#ffffff", textColor: "#ffffff", dash: null, strike: false},
  {x: 1110, tx: 1150, color: "#8c8c8c", textColor: "#8c8c8c", dash: null, strike: true},
  {x: 1513, tx: 1551, color: EMA_COLOR, textColor: "#ffffff", dash: "3,2", strike: false}
];
legendDefs.forEach((o, i) => {
  lg.append("line").attr("x1", o.x).attr("x2", o.x + 28).attr("y1", legendY).attr("y2", legendY)
    .attr("stroke", o.color).attr("stroke-width", 2.5).attr("stroke-dasharray", o.dash);
  lg.append("text").attr("x", o.tx).attr("y", legendY).attr("dy", "0.35em")
    .attr("font-family", FONT).attr("font-size", 31).attr("fill", o.textColor)
    .attr("text-decoration", o.strike ? "line-through" : null)
    .text(legendLabels[i]);
});

// logo
const logo = svg.append("g");
logo.append("path").attr("d", "M2188,1344.6 A12.5,12.5 0 1 0 2188,1365.4 Z").attr("fill", "#ffffff");
logo.append("circle").attr("cx", 2205).attr("cy", 1355).attr("r", 13).attr("fill", "#ffffff");
logo.append("path").attr("d", "M2205,1355 L2220,1358 L2216,1371 Z").attr("fill", BG);
logo.append("text").attr("x", 2233).attr("y", 1370)
  .attr("font-family", "Lato, 'Noto Sans', sans-serif").attr("font-weight", 700).attr("font-size", 39)
  .attr("fill", "#ffffff").attr("textLength", 259).attr("lengthAdjust", "spacingAndGlyphs")
  .text("CryptoQuant");
svg.append("text").attr("x", 2493).attr("y", 1397).attr("dy", "0.35em").attr("text-anchor", "end")
  .attr("font-family", FONT).attr("font-size", 16).attr("fill", "#8a8a8a")
  .text("© CryptoQuant All rights reserved.");
</script>
</body></html>
